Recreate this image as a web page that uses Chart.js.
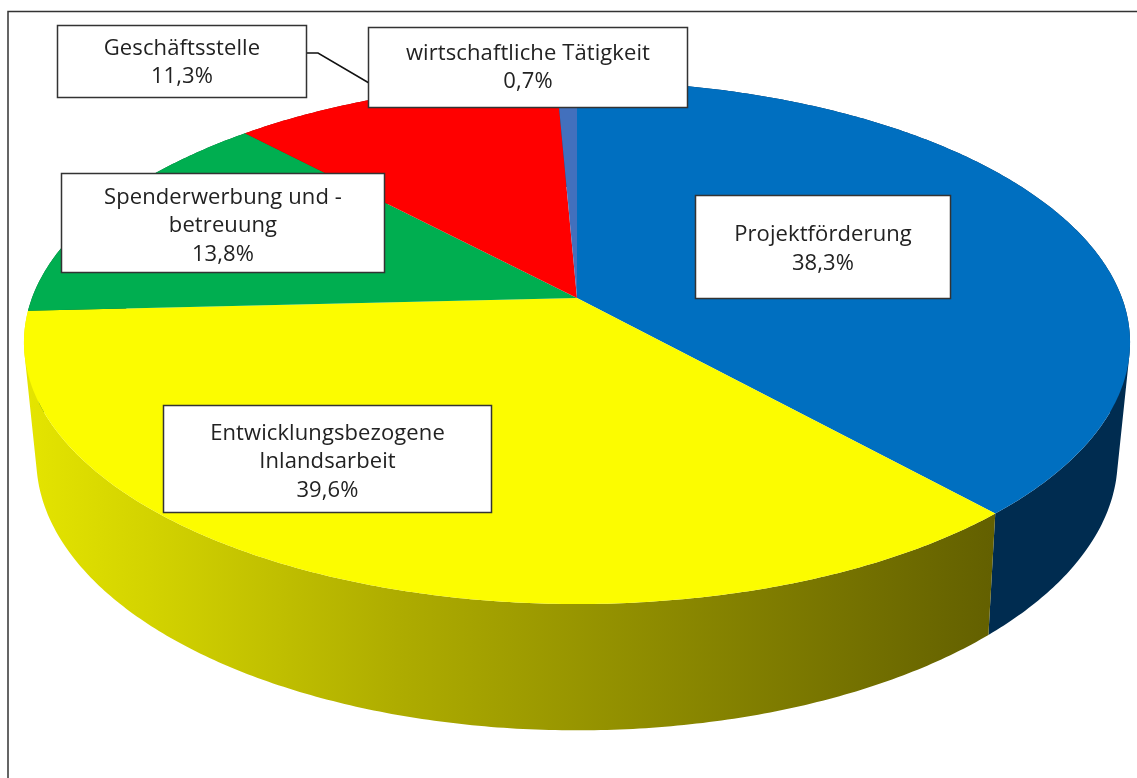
<!DOCTYPE html>
<html><head><meta charset="utf-8">
<style>html,body{margin:0;padding:0;background:#fff}canvas{display:block}</style>
<script src="https://cdn.jsdelivr.net/npm/chart.js@4/dist/chart.umd.min.js"></script>
</head><body><canvas id="c" width="1137" height="778"></canvas>
<script>
const categories = ["Projektförderung","Entwicklungsbezogene Inlandsarbeit","Spenderwerbung und -betreuung","Geschäftsstelle","wirtschaftliche Tätigkeit"];
// Slice sizes as drawn in the picture. The yellow wedge spans 35.9 of 100, while its printed label reads 39,6%.
const sliceValues = [38.3,35.9,13.8,11.3,0.7];
const printedLabels = ["38,3%","39,6%","13,8%","11,3%","0,7%"];
const sliceColors = ["#006fc0","#fcfc00","#00ae50","#ff0000","#4270bd"];

const topFace = {cx:577, cy:298, R:545, a:254, b:-0.17};
const bottomFace = {cx:577, cy:410, R:532, a:263, b:-0.179};
const boxes = [
 {x:695,y:195,w:256,h:104,lines:[categories[0],printedLabels[0]],dy:2},
 {x:163,y:405,w:329,h:108,lines:["Entwicklungsbezogene","Inlandsarbeit",printedLabels[1]],dy:3},
 {x:61,y:173,w:324,h:100,lines:["Spenderwerbung und -","betreuung",printedLabels[2]],dy:3},
 {x:57,y:25,w:250,h:73,lines:[categories[3],printedLabels[3]],dy:1},
 {x:368,y:27,w:320,h:81,lines:[categories[4],printedLabels[4]],dy:0}
];
const sideOrder = [4,3,2,0,1];
function map(f,th){
  const u=Math.cos(th), v=Math.sin(th), w=1+f.b*v;
  return [f.cx+f.R*u/w, f.cy+f.a*v/w];
}
const topPt=th=>map(topFace,th), botPt=th=>map(bottomFace,th);
function arcPts(fn,s,e){const n=Math.max(2,Math.ceil((e-s)/0.01));const p=[];for(let i=0;i<=n;i++)p.push(fn(s+(e-s)*i/n));return p;}
function poly(ctx,pts){ctx.beginPath();pts.forEach((p,i)=>i?ctx.lineTo(p[0],p[1]):ctx.moveTo(p[0],p[1]));ctx.closePath();}
function addQuad(ctx,q){
  // every quad gets the same winding, so overlapping quads on the fold never cancel out
  let area=0;
  q.forEach((p,k)=>{const n=q[(k+1)%4];area+=p[0]*n[1]-n[0]*p[1];});
  const pts=area<0?q.slice().reverse():q;
  pts.forEach((p,k)=>k?ctx.lineTo(p[0],p[1]):ctx.moveTo(p[0],p[1]));
  ctx.closePath();
}
function sideFill(ctx,i){
  if(i===0) return "#002c50";
  if(i===1){
    const g=ctx.createLinearGradient(30,0,1000,0);
    g.addColorStop(0,"#e4e400");g.addColorStop(0.13,"#d2d200");g.addColorStop(0.38,"#aeac00");g.addColorStop(1,"#625f00");
    return g;
  }
  return ["","", "#006030","#900000","#203a66"][i];
}
const pseudo3D={id:'pseudo3D',
 beforeDatasetsDraw(chart){
  const ctx=chart.ctx, arcs=chart.getDatasetMeta(0).data;
  ctx.save();
  sideOrder.forEach(i=>{
    const el=arcs[i], t=arcPts(topPt,el.startAngle,el.endAngle), b=arcPts(botPt,el.startAngle,el.endAngle);
    ctx.beginPath();
    for(let k=0;k<t.length-1;k++) addQuad(ctx,[t[k],t[k+1],b[k+1],b[k]]);
    ctx.fillStyle=sideFill(ctx,i);ctx.fill("nonzero");
  });
  arcs.forEach((el,i)=>{
    const t=arcPts(topPt,el.startAngle,el.endAngle);
    poly(ctx,[[topFace.cx,topFace.cy]].concat(t));ctx.fillStyle=sliceColors[i];ctx.fill();
  });
  ctx.restore();
  return false;
 },
 afterDraw(chart){
  const ctx=chart.ctx;ctx.save();
  ctx.strokeStyle="#333";ctx.lineWidth=1.5;
  ctx.beginPath();ctx.moveTo(8,778);ctx.lineTo(8,11.5);ctx.lineTo(1137,11.5);ctx.stroke();
  ctx.strokeStyle="#111";ctx.beginPath();ctx.moveTo(307,53);ctx.lineTo(318,53);ctx.lineTo(369,83);ctx.stroke();
  ctx.font='22px "Open Sans"';ctx.letterSpacing="0.1px";ctx.textAlign="center";ctx.textBaseline="middle";
  boxes.forEach(b=>{
    ctx.fillStyle="#fff";ctx.fillRect(b.x,b.y,b.w,b.h);ctx.strokeStyle="#333";ctx.strokeRect(b.x+.5,b.y+.5,b.w-1,b.h-1);
    ctx.fillStyle="#222";const lh=28.5,y0=b.y+b.h/2-(b.lines.length-1)*lh/2+b.dy;
    b.lines.forEach((l,i)=>ctx.fillText(l,b.x+b.w/2,y0+i*lh));
  });
  ctx.restore();
 }};
new Chart(document.getElementById('c'),{type:'pie',
 data:{labels:categories,datasets:[{data:sliceValues,backgroundColor:sliceColors,borderWidth:0}]},
 options:{responsive:false,animation:false,rotation:0,plugins:{legend:{display:false},tooltip:{enabled:false}}},
 plugins:[pseudo3D]});
</script></body></html>
